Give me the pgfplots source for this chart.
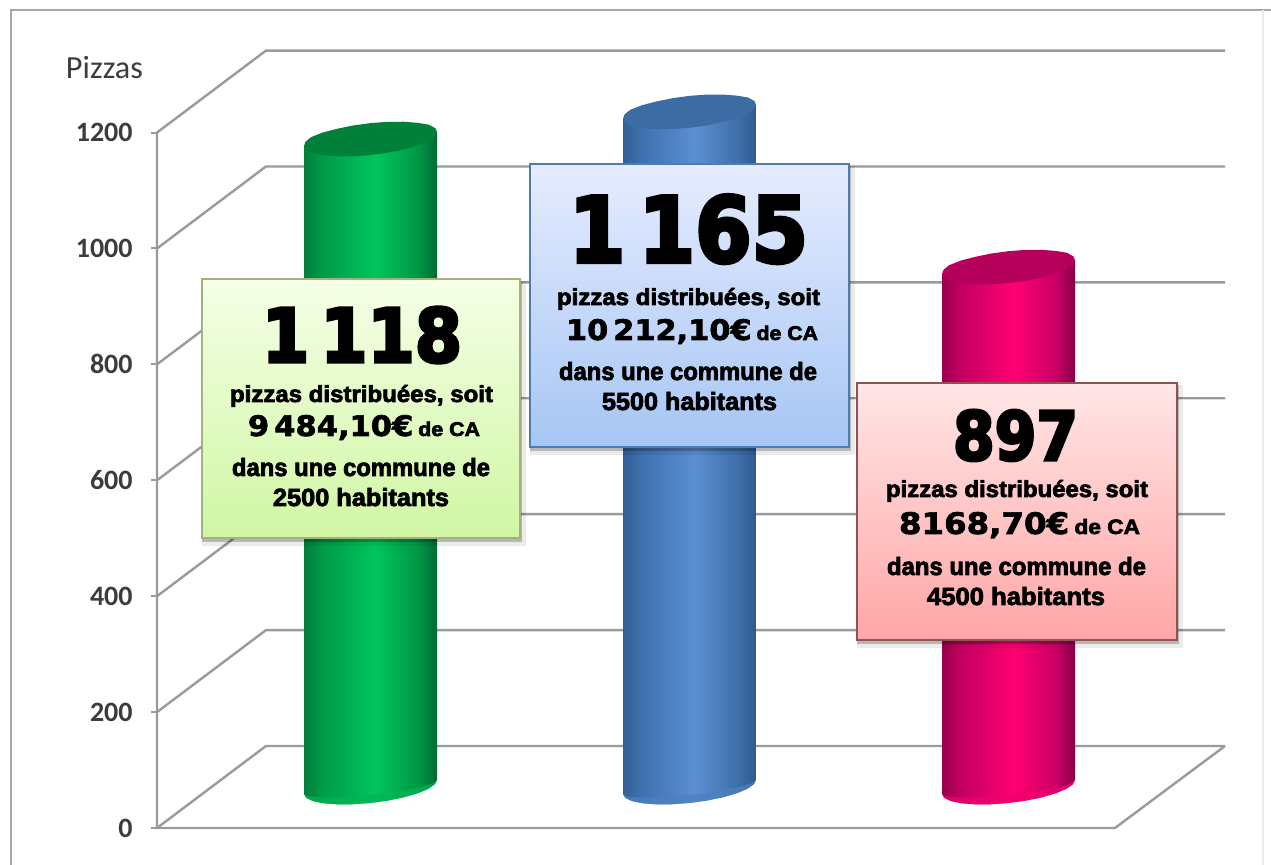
\documentclass[border=0pt]{standalone}
\usepackage{fontspec}
\usepackage{graphicx}
\usepackage{pgfplots}
\usepackage{pgfplotstable}
\pgfplotsset{compat=1.18}
\setmainfont{Carlito}
\newfontfamily\heavy{DejaVu Sans}[BoldFeatures={FakeBold=2.2}]
\newfontfamily\heavyx{DejaVu Sans}[BoldFeatures={FakeBold=4.5}]
\newfontfamily\blk{Liberation Sans}[BoldFeatures={FakeBold=3}]

\definecolor{gridc}{HTML}{9A9A9A}
\definecolor{framec}{HTML}{A6A6A6}
\definecolor{txtc}{HTML}{3C3C3C}
\definecolor{gtop}{HTML}{008039}
\definecolor{btop}{HTML}{3D6CA4}
\definecolor{ptop}{HTML}{B5005C}
\definecolor{gcap}{HTML}{00B552}
\definecolor{bcap}{HTML}{4E80BE}
\definecolor{pcap}{HTML}{F00070}
\definecolor{ga}{HTML}{007F3C}\definecolor{gb}{HTML}{009B48}\definecolor{gc}{HTML}{00C55C}\definecolor{gd}{HTML}{009646}\definecolor{ge}{HTML}{006934}
\definecolor{ba}{HTML}{325F96}\definecolor{bb}{HTML}{3E71AF}\definecolor{bc}{HTML}{5C8FD2}\definecolor{bd}{HTML}{3E70AA}\definecolor{be}{HTML}{2E5A91}
\definecolor{pa}{HTML}{98004E}\definecolor{pb}{HTML}{C30062}\definecolor{pc}{HTML}{FF0072}\definecolor{pd}{HTML}{C80066}\definecolor{pe}{HTML}{870046}
\definecolor{gbt}{HTML}{F6FFE6}\definecolor{gbb}{HTML}{CFF6A4}\definecolor{gbd}{HTML}{A3B27C}
\definecolor{bbt}{HTML}{E6ECFF}\definecolor{bbb}{HTML}{A6C6F4}\definecolor{bbd}{HTML}{4A7CB6}
\definecolor{pbt}{HTML}{FFE6E6}\definecolor{pbb}{HTML}{FFA6A6}\definecolor{pbd}{HTML}{8E5252}

\pgfdeclarehorizontalshading{grnsh}{100bp}{color(0bp)=(ga);color(25bp)=(ga);color(32bp)=(gb);color(52bp)=(gc);color(68bp)=(gd);color(75bp)=(ge);color(100bp)=(ge)}
\pgfdeclarehorizontalshading{blush}{100bp}{color(0bp)=(ba);color(25bp)=(ba);color(32bp)=(bb);color(52bp)=(bc);color(68bp)=(bd);color(75bp)=(be);color(100bp)=(be)}
\pgfdeclarehorizontalshading{pnksh}{100bp}{color(0bp)=(pa);color(25bp)=(pa);color(32bp)=(pb);color(52bp)=(pc);color(68bp)=(pd);color(75bp)=(pe);color(100bp)=(pe)}

% ellipse outline of a cylinder cap: offset in px (x), in pizzas (y)
\pgfplotstableread{
dx dv
66.5 12.08
64.2 4.53
57.6 -3.34
47.0 -10.97
33.25 -17.86
17.2 -23.53
0 -27.6
-17.2 -29.79
-33.25 -29.94
-47.0 -28.06
-57.6 -24.26
-64.2 -18.81
-66.5 -12.08
-65 -4.5
-59.5 3.3
-48 11.2
-33.25 17.86
-17.2 23.53
0 27.6
17.2 29.79
33.25 29.94
47.0 28.06
58.5 24.8
65 18.5
}\capshape
% side of a cylinder: front arc at the base (h=0), two points at the top (h=1)
\pgfplotstableread{
dx dv h
66.5 12.08 0
64.2 4.53 0
57.6 -3.34 0
47.0 -10.97 0
33.25 -17.86 0
17.2 -23.53 0
0 -27.6 0
-17.2 -29.79 0
-33.25 -29.94 0
-47.0 -28.06 0
-57.6 -24.26 0
-64.2 -18.81 0
-66.5 -12.08 0
-66.5 -12.08 1
66.5 12.08 1
}\bodyshape
% lit crescent at the foot of a cylinder
\pgfplotstableread{
dx dv
66.5 12.08
64.2 4.53
57.6 -3.34
47.0 -10.97
33.25 -17.86
17.2 -23.53
0 -27.6
-17.2 -29.79
-33.25 -29.94
-47.0 -28.06
-57.6 -24.26
-64.2 -18.81
-66.5 -12.08
-64.2 -15.2
-57.6 -17.26
-47.0 -18.16
-33.25 -17.84
-17.2 -16.29
0 -13.6
17.2 -10.03
33.25 -5.76
47.0 -1.07
57.6 3.66
64.2 8.13
}\footshape

% #1 centre in px, #2 value, #3 shading, #4 top colour, #5 crescent colour
\newcommand\cyl[5]{%
  \addplot[draw=none,shading=#3] table[x expr=\thisrow{dx}+#1,y expr=\thisrow{dv}+70.75+\thisrow{h}*#2]{\bodyshape}--cycle;
  \addplot[draw=none,fill=#5,fill opacity=.75] table[x expr=\thisrow{dx}+#1,y expr=\thisrow{dv}+70.75]{\footshape}--cycle;
  \addplot[draw=none,fill=#4] table[x expr=\thisrow{dx}+#1,y expr=\thisrow{dv}+70.75+#2]{\capshape}--cycle;
}
% #1..#4 box in px: left,top,right,bottom; #5 top colour, #6 bottom colour, #7 border
\newcommand\pybox[7]{%
  \fill[black,opacity=.08] (axis cs:#1,{(828-#2-2)*1.7256}) rectangle (axis cs:#3+6,{(828-#4-8)*1.7256});
  \fill[black,opacity=.22] (axis cs:#1,{(828-#2-2)*1.7256}) rectangle (axis cs:#3+2,{(828-#4-4)*1.7256});
  \draw[line width=1pt,draw=#7,top color=#5,bottom color=#6] (axis cs:#1,{(828-#2)*1.7256}) rectangle (axis cs:#3,{(828-#4)*1.7256});
}
% #1 centre x, #2 baseline y, #3 width, #4 height (px), #5 text
\newcommand\Ln[5]{%
  \node[inner sep=0pt,outer sep=0pt,anchor=base] at (axis cs:#1,{(828-#2)*1.7256}) {\resizebox{\dimexpr#3pt/2\relax}{\dimexpr#4pt/2\relax}{#5}};
}
\newcommand\TxA[1]{{\blk\bfseries #1}}
\newcommand\TxH[1]{{\heavy\bfseries #1}}
\newcommand\TxX[1]{{\heavyx\bfseries #1}}

\begin{document}
\begin{tikzpicture}
\path[use as bounding box] (0,0) rectangle (635.5pt,432.5pt);
\begin{axis}[
  at={(78.5pt,0pt)},anchor=south west,
  scale only axis,width=557pt,height=432.5pt,
  xmin=157,xmax=1271,ymin=-63.85,ymax=1428.8,
  clip=false,
  hide x axis,
  axis y line*=left,
  y axis line style={draw=none},
  ytick={0,200,400,600,800,1000,1200},
  tick style={draw=gridc,line width=1pt},
  major tick length=3pt,
  tick align=outside,
  yticklabel style={font=\fontsize{14}{14}\selectfont\bfseries,text=txtc,inner sep=0pt,xshift=-9pt},
  /pgf/number format/.cd,1000 sep={},assume math mode=true,
]
% outer frame
\addplot[framec,line width=1pt] coordinates {(11,-63.85) (11,1411.5) (1271,1411.5)};
\addplot[black!8,line width=.8pt] coordinates {(1263,-63.85) (1263,1411.5)};
% gridlines
\addplot[gridc,line width=1.2pt] coordinates {(157,0) (266,141.5) (1225,141.5)};
\addplot[gridc,line width=1.2pt] coordinates {(157,200) (266,341.5) (1225,341.5)};
\addplot[gridc,line width=1.2pt] coordinates {(157,400) (266,541.5) (1225,541.5)};
\addplot[gridc,line width=1.2pt] coordinates {(157,600) (266,741.5) (1225,741.5)};
\addplot[gridc,line width=1.2pt] coordinates {(157,800) (266,941.5) (1225,941.5)};
\addplot[gridc,line width=1.2pt] coordinates {(157,1000) (266,1141.5) (1225,1141.5)};
\addplot[gridc,line width=1.2pt] coordinates {(157,1200) (266,1341.5) (1225,1341.5)};
\addplot[gridc,line width=1.2pt] coordinates {(157,1200) (157,0) (1115,0) (1225,141.5)};
% cylinders
\cyl{370.5}{1118}{grnsh}{gtop}{gcap}
\cyl{689.5}{1165}{blush}{btop}{bcap}
\cyl{1008.5}{897}{pnksh}{ptop}{pcap}
% label boxes
\pybox{202}{279}{520}{538}{gbt}{gbb}{gbd}
\pybox{530}{164}{849}{447}{bbt}{bbb}{bbd}
\pybox{857}{383}{1177}{640}{pbt}{pbb}{pbd}
% axis title
\node[anchor=base,inner sep=0pt,text=txtc] at (axis cs:104.5,{(828-79)*1.7256}) {\resizebox{38.5pt}{!}{Pizzas}};
% green box text
\Ln{362}{362}{200}{55}{\TxX{1\,118}}
\Ln{361.5}{402}{263}{17}{\TxA{pizzas distribuées, soit}}
\Ln{364}{436}{232}{21}{\TxH{9\,484,10€}\,\TxA{\fontsize{7}{7}\selectfont de CA}}
\Ln{361}{476}{258}{18}{\TxA{dans une commune de}}
\Ln{361}{506}{176}{18}{\TxA{2500 habitants}}
% blue box text
\Ln{688.5}{262}{239}{67}{\TxX{1\,165}}
\Ln{688.5}{305}{263}{17}{\TxA{pizzas distribuées, soit}}
\Ln{692}{340}{252}{21}{\TxH{10\,212,10€}\,\TxA{\fontsize{7}{7}\selectfont de CA}}
\Ln{688}{380}{258}{18}{\TxA{dans une commune de}}
\Ln{689.5}{410}{175}{18}{\TxA{5500 habitants}}
% pink box text
\Ln{1015.5}{460}{125}{50}{\TxX{897}}
\Ln{1017}{497}{262}{17}{\TxA{pizzas distribuées, soit}}
\Ln{1019.5}{534}{241}{22}{\TxH{8168,70€}\,\TxA{\fontsize{7}{7}\selectfont de CA}}
\Ln{1016.5}{575}{259}{18}{\TxA{dans une commune de}}
\Ln{1016}{605}{178}{18}{\TxA{4500 habitants}}
\end{axis}
\end{tikzpicture}
\end{document}
